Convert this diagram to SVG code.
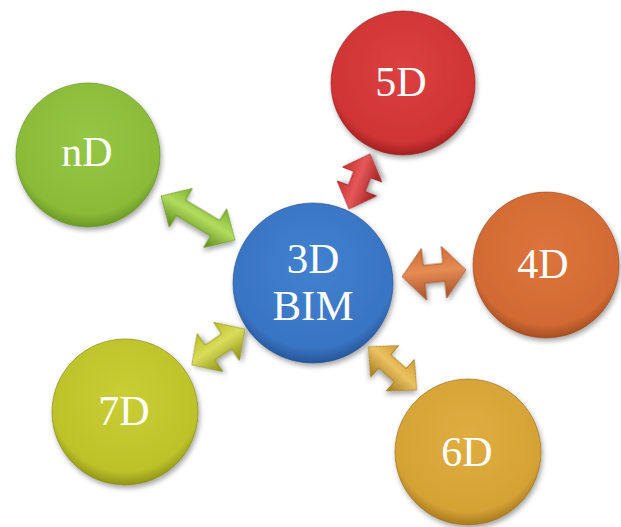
<svg xmlns="http://www.w3.org/2000/svg" width="621" height="527" viewBox="0 0 621 527">
  <defs>
    <filter id="shadow" x="-20%" y="-20%" width="140%" height="150%">
      <feDropShadow dx="1.5" dy="3" stdDeviation="2.5" flood-color="#000" flood-opacity="0.35"/>
    </filter>
    <radialGradient id="gGreen" cx="50%" cy="40%" r="60%">
      <stop offset="0" stop-color="#95c746"/>
      <stop offset="0.85" stop-color="#89bb38"/>
      <stop offset="1" stop-color="#6a9824"/>
    </radialGradient>
    <radialGradient id="gRed" cx="50%" cy="40%" r="60%">
      <stop offset="0" stop-color="#dc4040"/>
      <stop offset="0.85" stop-color="#d03434"/>
      <stop offset="1" stop-color="#a22020"/>
    </radialGradient>
    <radialGradient id="gBlue" cx="50%" cy="40%" r="60%">
      <stop offset="0" stop-color="#4281cf"/>
      <stop offset="0.85" stop-color="#3874c2"/>
      <stop offset="1" stop-color="#27569a"/>
    </radialGradient>
    <radialGradient id="gOrange" cx="50%" cy="40%" r="60%">
      <stop offset="0" stop-color="#dd743d"/>
      <stop offset="0.85" stop-color="#d26a33"/>
      <stop offset="1" stop-color="#a54e22"/>
    </radialGradient>
    <radialGradient id="gLime" cx="50%" cy="40%" r="60%">
      <stop offset="0" stop-color="#c9ce35"/>
      <stop offset="0.85" stop-color="#bdc22a"/>
      <stop offset="1" stop-color="#909516"/>
    </radialGradient>
    <radialGradient id="gGold" cx="50%" cy="40%" r="60%">
      <stop offset="0" stop-color="#dfad40"/>
      <stop offset="0.85" stop-color="#d5a235"/>
      <stop offset="1" stop-color="#a87a1e"/>
    </radialGradient>
    <linearGradient id="aGreen" x1="0" y1="0" x2="0" y2="1">
      <stop offset="0" stop-color="#7cb02c"/>
      <stop offset="0.45" stop-color="#b2dc5e"/>
      <stop offset="1" stop-color="#5c8a1a"/>
    </linearGradient>
    <linearGradient id="aRed" x1="0" y1="0" x2="0" y2="1">
      <stop offset="0" stop-color="#c62e2e"/>
      <stop offset="0.45" stop-color="#e65858"/>
      <stop offset="1" stop-color="#9c1e1e"/>
    </linearGradient>
    <linearGradient id="aOrange" x1="0" y1="0" x2="0" y2="1">
      <stop offset="0" stop-color="#d06a32"/>
      <stop offset="0.45" stop-color="#e58c55"/>
      <stop offset="1" stop-color="#a65028"/>
    </linearGradient>
    <linearGradient id="aLime" x1="0" y1="0" x2="0" y2="1">
      <stop offset="0" stop-color="#b8bd26"/>
      <stop offset="0.45" stop-color="#dadd5a"/>
      <stop offset="1" stop-color="#8c9116"/>
    </linearGradient>
    <linearGradient id="aGold" x1="0" y1="0" x2="0" y2="1">
      <stop offset="0" stop-color="#d09c2e"/>
      <stop offset="0.45" stop-color="#ebc262"/>
      <stop offset="1" stop-color="#a2781c"/>
    </linearGradient>
  </defs>
  <style>
    .node { filter: url(#shadow); stroke-width: 1; stroke-opacity: 0.6; }
    .lbl { font-family: "Liberation Serif", "Times New Roman", serif; fill: #ffffff; text-anchor: middle; font-size: 42px; }
    .arrow { stroke-width: 0.8; stroke-linejoin: miter; filter: url(#shadow); }
  </style>

  <g id="node-nD">
    <circle class="node" cx="88" cy="155" r="72" fill="url(#gGreen)" stroke="#5f8a20"/>
    <text class="lbl" x="87" y="166">nD</text>
  </g>
  <g id="node-5D">
    <circle class="node" cx="403" cy="83" r="72" fill="url(#gRed)" stroke="#8e1c1c"/>
    <text class="lbl" x="401" y="96">5D</text>
  </g>
  <g id="node-3DBIM">
    <circle class="node" cx="313" cy="283" r="80" fill="url(#gBlue)" stroke="#234f8c"/>
    <text class="lbl" x="313" y="273" style="font-size:43px">3D</text>
    <text class="lbl" x="313" y="320" style="font-size:43px">BIM</text>
  </g>
  <g id="node-4D">
    <circle class="node" cx="546" cy="265" r="73" fill="url(#gOrange)" stroke="#94461f"/>
    <text class="lbl" x="543" y="278">4D</text>
  </g>
  <g id="node-7D">
    <circle class="node" cx="125" cy="412" r="73" fill="url(#gLime)" stroke="#7f8414"/>
    <text class="lbl" x="124" y="425">7D</text>
  </g>
  <g id="node-6D">
    <circle class="node" cx="468" cy="452" r="73" fill="url(#gGold)" stroke="#946a1a"/>
    <text class="lbl" x="467" y="466">6D</text>
  </g>

  <g id="connectors">
    <!-- nD <-> 3D BIM -->
    <polygon class="arrow" fill="url(#aGreen)" stroke="#5f8d1c" transform="translate(198,218) rotate(30.8)"
      points="-43,0 -20,-22.5 -20,-9 20,-9 20,-22.5 43,0 20,22.5 20,9 -20,9 -20,22.5"/>
    <!-- 5D <-> 3D BIM -->
    <polygon class="arrow" fill="url(#aRed)" stroke="#9a1e1e" transform="translate(359.5,181.5) rotate(-69.1)"
      points="-29.5,0 -7.5,-21 -7.5,-9 7.5,-9 7.5,-21 29.5,0 7.5,21 7.5,9 -7.5,9 -7.5,21"/>
    <!-- 3D BIM <-> 4D -->
    <polygon class="arrow" fill="url(#aOrange)" stroke="#a0502a" transform="translate(434,273.3) rotate(-6)"
      points="-32,0 -10,-26 -10,-9 10,-9 10,-26 32,0 10,26 10,9 -10,9 -10,26"/>
    <!-- 7D <-> 3D BIM -->
    <polygon class="arrow" fill="url(#aLime)" stroke="#8a8f18" transform="translate(218.3,347) rotate(-34)"
      points="-32,0 -10,-23 -10,-9 10,-9 10,-23 32,0 10,23 10,9 -10,9 -10,23"/>
    <!-- 3D BIM <-> 6D -->
    <polygon class="arrow" fill="url(#aGold)" stroke="#9c741c" transform="translate(392.5,368.3) rotate(41.8)"
      points="-32.5,0 -10.5,-21 -10.5,-9 10.5,-9 10.5,-21 32.5,0 10.5,21 10.5,9 -10.5,9 -10.5,21"/>
  </g>
</svg>
